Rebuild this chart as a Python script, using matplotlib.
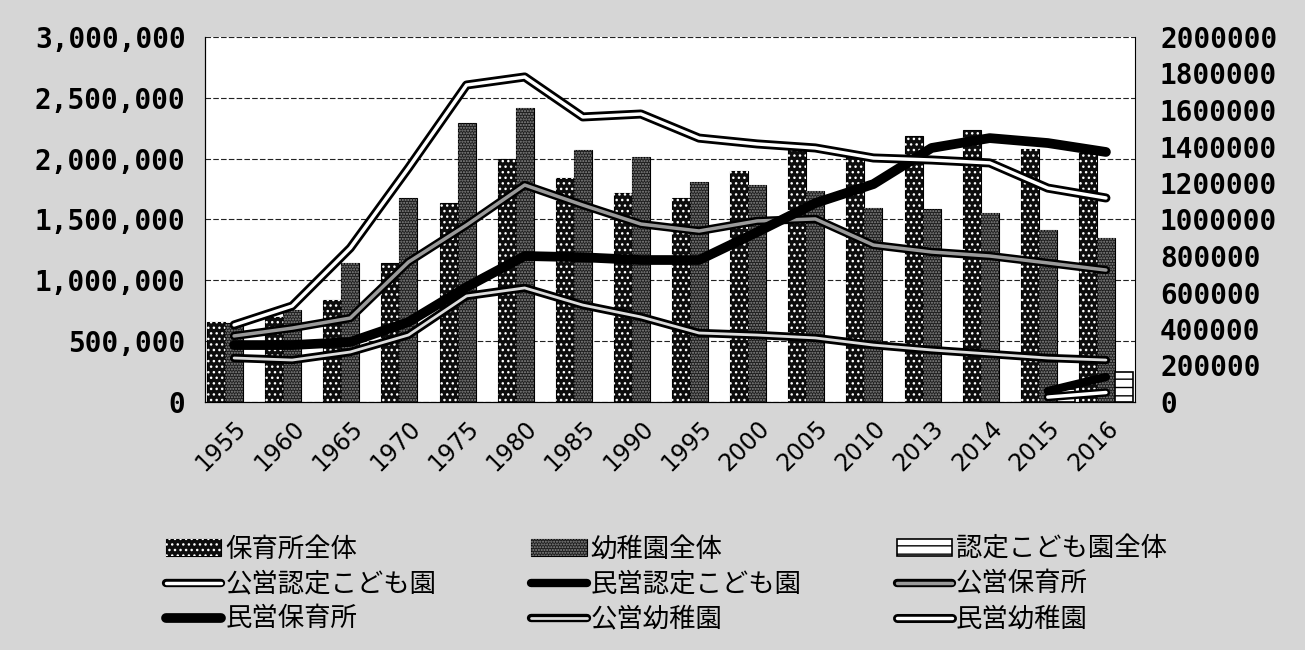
import numpy as np
import matplotlib.pyplot as plt
from matplotlib import patheffects as pe
from matplotlib.legend_handler import HandlerTuple
from matplotlib.ticker import FuncFormatter, MultipleLocator

# categories
years = ['1955', '1960', '1965', '1970', '1975', '1980', '1985', '1990',
         '1995', '2000', '2005', '2010', '2013', '2014', '2015', '2016']

# bars (left axis)
hoikusho_total = [656000, 697000, 836000, 1139000, 1639000, 2000000, 1844000, 1721000,
                  1680000, 1902000, 2123000, 2057000, 2189000, 2238000, 2082000, 2049000]
youchien_total = [648000, 754000, 1139000, 1680000, 2295000, 2418000, 2074000, 2016000,
                  1811000, 1787000, 1738000, 1598000, 1590000, 1557000, 1410000, 1344000]
nintei_total = [np.nan] * 14 + [110000, 250000]

# lines (right axis)
kou_nintei = [np.nan] * 14 + [27000, 52000]
min_nintei = [np.nan] * 14 + [60000, 137000]
kou_hoikusho = [362000, 405000, 460000, 767000, 970000, 1189000, 1079000, 975000,
                937000, 992000, 1003000, 860000, 822000, 800000, 762000, 723000]
min_hoikusho = [312000, 312000, 329000, 438000, 630000, 800000, 793000, 778000,
                778000, 931000, 1090000, 1194000, 1392000, 1446000, 1419000, 1370000]
kou_youchien = [241000, 230000, 274000, 367000, 581000, 625000, 531000, 466000,
                378000, 367000, 351000, 312000, 285000, 263000, 241000, 230000]
min_youchien = [422000, 526000, 844000, 1282000, 1737000, 1781000, 1562000, 1578000,
                1446000, 1414000, 1392000, 1337000, 1326000, 1310000, 1172000, 1118000]

fig = plt.figure(figsize=(13.05, 6.5), dpi=100, facecolor='#d6d6d6')
ax = fig.add_axes([205 / 1305, 248 / 650, 930 / 1305, 365 / 650])
ax.set_facecolor('white')

x = np.arange(len(years))
w = 0.31

# bars: solid base + hatch overlay
b1 = ax.bar(x - w, hoikusho_total, w, color='#0d0d0d', edgecolor='black', lw=0.8)
b1h = ax.bar(x - w, hoikusho_total, w, color='none', edgecolor='white', hatch='...', lw=0)
b2 = ax.bar(x, youchien_total, w, color='#1e1e1e', edgecolor='black', lw=0.8)
b2h = ax.bar(x, youchien_total, w, color='none', edgecolor='#8c8c8c', hatch='......', lw=0)
b3 = ax.bar(x + w, nintei_total, w, color='white', edgecolor='black', lw=1.2)
b3h = ax.bar(x + w, nintei_total, w, color='none', edgecolor='black', hatch='--', lw=0)

ax.set_xlim(-0.5, len(years) - 0.5)
ax.set_ylim(0, 3000000)
ax.yaxis.set_major_locator(MultipleLocator(500000))
ax.yaxis.set_major_formatter(FuncFormatter(lambda v, _: f'{int(v):,}'))
ax.yaxis.grid(True, color='#222222', ls=(0, (5, 2)), lw=0.8)
ax.set_axisbelow(True)
ax.set_xticks(x)
ax.set_xticklabels(years, rotation=45, ha='right', rotation_mode='anchor',
                   fontsize=17, family='DejaVu Sans')
ax.tick_params(axis='x', length=0, pad=10)
ax.tick_params(axis='y', length=0, pad=14)
for lab in ax.get_yticklabels():
    lab.set_fontfamily('DejaVu Sans Mono')
    lab.set_fontsize(20)
    lab.set_fontweight('bold')
for s in ['top', 'right']:
    ax.spines[s].set_visible(False)
ax.spines['left'].set_linewidth(0.8)
ax.spines['bottom'].set_linewidth(0.8)

# lines on right axis
ax2 = ax.twinx()
ax2.set_ylim(0, 2000000)
ax2.yaxis.set_major_locator(MultipleLocator(200000))
ax2.yaxis.set_major_formatter(FuncFormatter(lambda v, _: f'{int(v)}'))
ax2.tick_params(axis='y', length=0, pad=18)
for lab in ax2.get_yticklabels():
    lab.set_fontfamily('DejaVu Sans Mono')
    lab.set_fontsize(20)
    lab.set_fontweight('bold')
ax2.spines['top'].set_visible(False)
ax2.spines['right'].set_linewidth(0.8)


def double_line(y, inner, lw_in, lw_out, label):
    ln, = ax2.plot(x, y, color=inner, lw=lw_in, solid_capstyle='round', label=label,
                   path_effects=[pe.Stroke(linewidth=lw_out, foreground='black',
                                           capstyle='round'), pe.Normal()])
    return ln


l_kn = double_line(kou_nintei, 'white', 2.5, 6, '公営認定こども園')
l_mn, = ax2.plot(x, min_nintei, color='black', lw=6, solid_capstyle='round', label='民営認定こども園')
l_kh = double_line(kou_hoikusho, '#9a9a9a', 2.5, 6, '公営保育所')
l_mh, = ax2.plot(x, min_hoikusho, color='black', lw=7, solid_capstyle='round', label='民営保育所')
l_ky = double_line(kou_youchien, '#dddddd', 2, 6, '公営幼稚園')
l_my = double_line(min_youchien, 'white', 2.5, 6.5, '民営幼稚園')

# legend, reordered so it reads row by row
handles = [(b1[0], b1h[0]), l_kn, l_mh,
           (b2[0], b2h[0]), l_mn, l_ky,
           (b3[0], b3h[0]), l_kh, l_my]
labels = ['保育所全体', '公営認定こども園', '民営保育所',
          '幼稚園全体', '民営認定こども園', '公営幼稚園',
          '認定こども園全体', '公営保育所', '民営幼稚園']
fig.legend(handles, labels, ncol=3, loc='center left',
           bbox_to_anchor=(166 / 1305, 1 - 584 / 650),
           handler_map={tuple: HandlerTuple(ndivide=1)},
           prop={'family': ['Noto Sans CJK JP', 'DejaVu Sans'], 'size': 19},
           frameon=False, handlelength=2.1, handleheight=0.6, handletextpad=0.15,
           columnspacing=3.6, labelspacing=0.3, borderpad=0, borderaxespad=0)

fig.savefig('out.png', dpi=100, facecolor=fig.get_facecolor())
